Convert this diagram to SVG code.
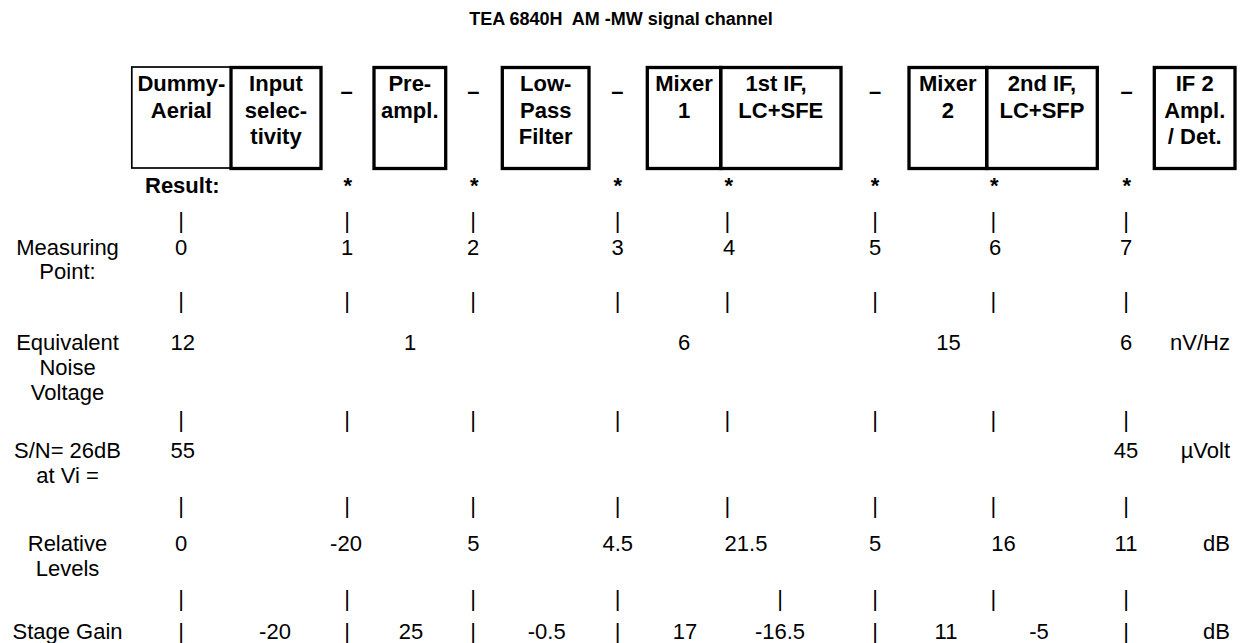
<svg xmlns="http://www.w3.org/2000/svg" width="1242" height="643" viewBox="0 0 1242 643">
<style>
  text { font-family: "Liberation Sans", Arial, Helvetica, sans-serif; font-size: 22px; fill: #000; }
  .b { font-weight: bold; }
  .m { text-anchor: middle; }
  .e { text-anchor: end; }
  .ttl { font-size: 18px; }
  .box { fill: none; stroke: #000; stroke-width: 3.3; }
  .thin { fill: none; stroke: #000; stroke-width: 1.7; }
</style>
<rect x="0" y="0" width="1242" height="643" fill="#fff"/>

<g id="title">
  <text class="b m ttl" x="621" y="25" xml:space="preserve">TEA 6840H  AM -MW signal channel</text>
</g>

<g id="node-dummy-aerial">
  <rect class="thin" x="131.8" y="67" width="99.2" height="101"/>
  <text class="b m" x="181.4" y="91">Dummy-</text>
  <text class="b m" x="181.4" y="117.5">Aerial</text>
</g>
<g id="node-input-selectivity">
  <rect class="box" x="231" y="67.5" width="90" height="101"/>
  <text class="b m" x="276" y="91">Input</text>
  <text class="b m" x="276" y="117.5">selec-</text>
  <text class="b m" x="276" y="144">tivity</text>
</g>
<g id="node-preampl">
  <rect class="box" x="374" y="67.5" width="71.7" height="101"/>
  <text class="b m" x="409.8" y="91">Pre-</text>
  <text class="b m" x="409.8" y="117.5">ampl.</text>
</g>
<g id="node-lowpass">
  <rect class="box" x="502.3" y="67.5" width="86.7" height="101"/>
  <text class="b m" x="545.7" y="91">Low-</text>
  <text class="b m" x="545.7" y="117.5">Pass</text>
  <text class="b m" x="545.7" y="144">Filter</text>
</g>
<g id="node-mixer1">
  <rect class="box" x="647.3" y="67.5" width="73.4" height="101"/>
  <text class="b m" x="684" y="91">Mixer</text>
  <text class="b m" x="684" y="117.5">1</text>
</g>
<g id="node-if1">
  <rect class="box" x="720.7" y="67.5" width="120.3" height="101"/>
  <text class="b m" x="776" y="91">1st IF,</text>
  <text class="b m" x="780.8" y="117.5">LC+SFE</text>
</g>
<g id="node-mixer2">
  <rect class="box" x="909" y="67.5" width="77.7" height="101"/>
  <text class="b m" x="947.8" y="91">Mixer</text>
  <text class="b m" x="947.8" y="117.5">2</text>
</g>
<g id="node-if2">
  <rect class="box" x="986.7" y="67.5" width="110.6" height="101"/>
  <text class="b m" x="1042" y="91">2nd IF,</text>
  <text class="b m" x="1042" y="117.5">LC+SFP</text>
</g>
<g id="node-if2-ampl-det">
  <rect class="box" x="1154.3" y="67.5" width="80.7" height="101"/>
  <text class="b m" x="1194.7" y="91">IF 2</text>
  <text class="b m" x="1194.7" y="117.5">Ampl.</text>
  <text class="b m" x="1194.7" y="144">/ Det.</text>
</g>

<g id="connectors">
  <text class="b m" x="346.7" y="99.4">–</text>
  <text class="b m" x="473.3" y="99.4">–</text>
  <text class="b m" x="617.3" y="99.4">–</text>
  <text class="b m" x="875" y="99.4">–</text>
  <text class="b m" x="1126.7" y="99.4">–</text>
</g>

<g id="result-row">
  <text class="b" x="145" y="193">Result:</text>
  <text class="b m" x="347.7" y="193">*</text>
  <text class="b m" x="474.3" y="193">*</text>
  <text class="b m" x="617.7" y="193">*</text>
  <text class="b m" x="728.7" y="193">*</text>
  <text class="b m" x="875" y="193">*</text>
  <text class="b m" x="994.3" y="193">*</text>
  <text class="b m" x="1126.7" y="193">*</text>
</g>

<g id="pipes-a">
  <text class="m" x="181" y="228">|</text><text class="m" x="347" y="228">|</text><text class="m" x="473" y="228">|</text><text class="m" x="617.7" y="228">|</text>
  <text class="m" x="727.3" y="228">|</text><text class="m" x="875" y="228">|</text><text class="m" x="993.3" y="228">|</text><text class="m" x="1126" y="228">|</text>
</g>
<g id="row-measuring">
  <text class="m" x="67.5" y="255">Measuring</text>
  <text class="m" x="67.5" y="279">Point:</text>
  <text class="m" x="181" y="255">0</text><text class="m" x="347" y="255">1</text><text class="m" x="473" y="255">2</text><text class="m" x="617.7" y="255">3</text>
  <text class="m" x="729" y="255">4</text><text class="m" x="875" y="255">5</text><text class="m" x="995" y="255">6</text><text class="m" x="1126" y="255">7</text>
</g>
<g id="pipes-b">
  <text class="m" x="181" y="307.5">|</text><text class="m" x="347" y="307.5">|</text><text class="m" x="473" y="307.5">|</text><text class="m" x="617.7" y="307.5">|</text>
  <text class="m" x="727.3" y="307.5">|</text><text class="m" x="875" y="307.5">|</text><text class="m" x="993.3" y="307.5">|</text><text class="m" x="1126" y="307.5">|</text>
</g>
<g id="row-noise">
  <text class="m" x="67.5" y="349.6">Equivalent</text>
  <text class="m" x="67.5" y="374.6">Noise</text>
  <text class="m" x="67.5" y="399.6">Voltage</text>
  <text class="m" x="182.7" y="349.6">12</text>
  <text class="m" x="410" y="349.6">1</text>
  <text class="m" x="684" y="349.6">6</text>
  <text class="m" x="948.5" y="349.6">15</text>
  <text class="m" x="1126" y="349.6">6</text>
  <text class="e" x="1230" y="349.6">nV/Hz</text>
</g>
<g id="pipes-c">
  <text class="m" x="181" y="427">|</text><text class="m" x="347" y="427">|</text><text class="m" x="473" y="427">|</text><text class="m" x="617.7" y="427">|</text>
  <text class="m" x="727.3" y="427">|</text><text class="m" x="875" y="427">|</text><text class="m" x="993.3" y="427">|</text><text class="m" x="1126" y="427">|</text>
</g>
<g id="row-sn">
  <text class="m" x="67.5" y="457.6">S/N= 26dB</text>
  <text class="m" x="67.5" y="482.6">at Vi =</text>
  <text class="m" x="182.7" y="457.6">55</text>
  <text class="m" x="1126" y="457.6">45</text>
  <text class="e" x="1230" y="457.6">µVolt</text>
</g>
<g id="pipes-d">
  <text class="m" x="181" y="513">|</text><text class="m" x="347" y="513">|</text><text class="m" x="473" y="513">|</text><text class="m" x="617.7" y="513">|</text>
  <text class="m" x="727.3" y="513">|</text><text class="m" x="875" y="513">|</text><text class="m" x="993.3" y="513">|</text><text class="m" x="1126" y="513">|</text>
</g>
<g id="row-relative">
  <text class="m" x="67.5" y="551">Relative</text>
  <text class="m" x="67.5" y="576">Levels</text>
  <text class="m" x="181" y="551">0</text>
  <text class="m" x="346" y="551">-20</text>
  <text class="m" x="473.3" y="551">5</text>
  <text class="m" x="617.7" y="551">4.5</text>
  <text class="m" x="746" y="551">21.5</text>
  <text class="m" x="875" y="551">5</text>
  <text class="m" x="1003.5" y="551">16</text>
  <text class="m" x="1126" y="551">11</text>
  <text class="e" x="1230" y="551">dB</text>
</g>
<g id="pipes-e">
  <text class="m" x="181" y="605.5">|</text><text class="m" x="347" y="605.5">|</text><text class="m" x="473" y="605.5">|</text><text class="m" x="617.7" y="605.5">|</text>
  <text class="m" x="780" y="605.5">|</text><text class="m" x="875" y="605.5">|</text><text class="m" x="993.3" y="605.5">|</text><text class="m" x="1126" y="605.5">|</text>
</g>
<g id="row-stage-gain">
  <text class="m" x="67.5" y="639">Stage Gain</text>
  <text class="m" x="181" y="639">|</text>
  <text class="m" x="275" y="639">-20</text>
  <text class="m" x="347" y="639">|</text>
  <text class="m" x="411" y="639">25</text>
  <text class="m" x="473" y="639">|</text>
  <text class="m" x="546.7" y="639">-0.5</text>
  <text class="m" x="617.7" y="639">|</text>
  <text class="m" x="685" y="639">17</text>
  <text class="m" x="780" y="639">-16.5</text>
  <text class="m" x="875" y="639">|</text>
  <text class="m" x="946" y="639">11</text>
  <text class="m" x="1039" y="639">-5</text>
  <text class="m" x="1126" y="639">|</text>
  <text class="e" x="1230" y="639">dB</text>
</g>
</svg>
